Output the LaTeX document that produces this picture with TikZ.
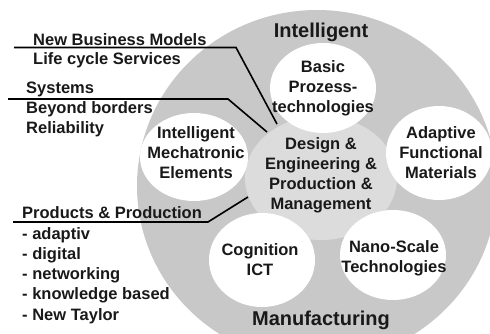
\documentclass[tikz,border=0pt]{standalone}
\usepackage{fontspec}
\setmainfont{Liberation Sans}
\definecolor{biggray}{RGB}{200,200,200}
\definecolor{midgray}{RGB}{220,220,220}
\definecolor{ink}{RGB}{25,25,25}
\begin{document}
\begin{tikzpicture}[x=1pt,y=-1pt,
  lbl/.style={font=\bfseries\fontsize{16.5}{20}\selectfont, text=ink, inner sep=0pt},
  big/.style={font=\bfseries\fontsize{20}{24}\selectfont, text=ink, inner sep=0pt},
  ctext/.style={lbl, align=center},
  ltext/.style={lbl, anchor=west},
  wcirc/.style={fill=white, draw=none},
  conn/.style={draw=black, line width=1.6pt, line join=miter}
]
\useasboundingbox (0,0) rectangle (490,334);
\fill[white] (0,0) rectangle (490,334);
\begin{scope}
  \clip (0,0) rectangle (490,334);
  \fill[biggray] (317,186) ellipse [x radius=180, y radius=176];
  \fill[midgray] (321,178) ellipse [x radius=76, y radius=62];
  \fill[white] (323,88) ellipse [x radius=53, y radius=45];
  \fill[white] (194,157) ellipse [x radius=54, y radius=44];
  \fill[white] (439,153) ellipse [x radius=53, y radius=47];
  \fill[white] (262,260) ellipse [x radius=53, y radius=47];
  \fill[white] (393,255) ellipse [x radius=53, y radius=45];
\end{scope}

% circle texts
\node[big] (intel) at (321,32) {Intelligent};
\node[big] (manu) at (321,320) {Manufacturing};
\node[ctext] (basic) at (323,88) {Basic\\Prozess-\\technologies};
\node[ctext] (mech) at (196,153) {Intelligent\\Mechatronic\\Elements};
\node[ctext] (adapt) at (441,153) {Adaptive\\Functional\\Materials};
\node[ctext] (cogn) at (260,260) {Cognition\\ICT};
\node[ctext] (nano) at (394,258) {Nano-Scale\\Technologies};
\node[ctext] (design) at (321,175) {Design \&\\Engineering \&\\Production \&\\Management};

% left texts
\node[ltext] (nbm) at (33,40) {New Business Models};
\node[ltext] (lcs) at (33,60) {Life cycle Services};
\node[ltext] (sys) at (26,89) {Systems};
\node[ltext] (bb) at (26,109) {Beyond borders};
\node[ltext] (rel) at (26,129) {Reliability};
\node[ltext] (pp) at (22,213) {Products \& Production};
\node[ltext] (l1) at (22,235) {- adaptiv};
\node[ltext] (l2) at (22,255) {- digital};
\node[ltext] (l3) at (22,275) {- networking};
\node[ltext] (l4) at (22,295) {- knowledge based};
\node[ltext] (l5) at (22,316) {- New Taylor};

% connectors
\coordinate (a0) at (14,47.5);
\coordinate (a1) at (236,47.5);
\coordinate (a2) at (277,124);
\coordinate (b0) at (8,99);
\coordinate (b1) at (228,99);
\coordinate (b2) at (267,132);
\coordinate (c0) at (13,222);
\coordinate (c1) at (208,222);
\coordinate (c2) at (248,197);
\draw[conn] (a0) -- (a1) -- (a2);
\draw[conn] (b0) -- (b1) -- (b2);
\draw[conn] (c0) -- (c1) -- (c2);
\end{tikzpicture}
\end{document}
